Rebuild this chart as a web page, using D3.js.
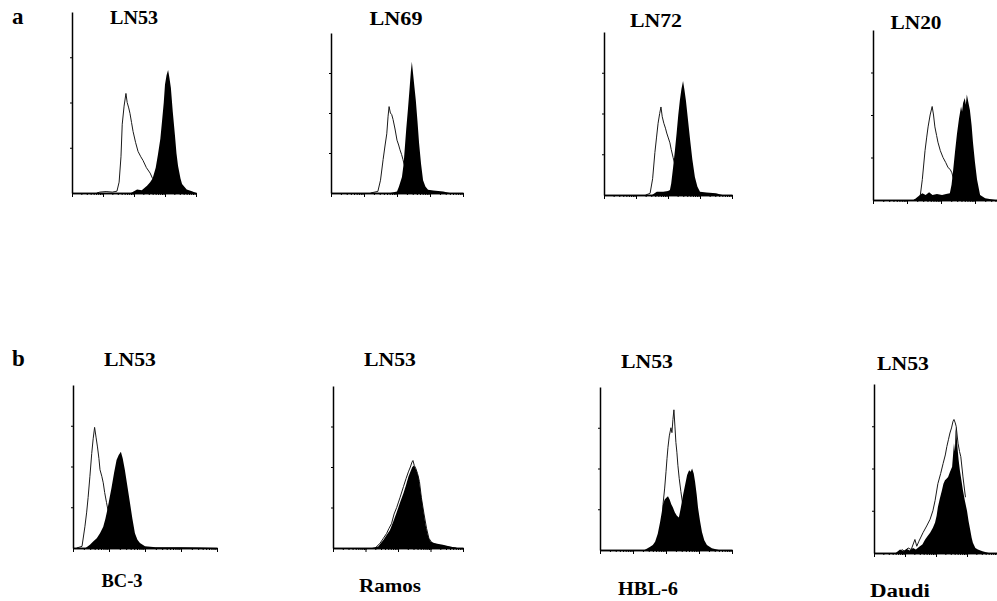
<!DOCTYPE html>
<html>
<head>
<meta charset="utf-8">
<script src="https://cdn.jsdelivr.net/npm/d3@7"></script>
<style>
  body { margin: 0; background: #fff; }
  text { font-family: "Liberation Serif", "DejaVu Serif", serif; font-weight: bold; fill: #000; }
</style>
</head>
<body>
<div class="holder"></div>
<script>
// antibody name above each panel, cell line below (row b only)
const antibodies = ['LN53', 'LN69', 'LN72', 'LN20', 'LN53', 'LN53', 'LN53', 'LN53'];
const cellLines = ['', '', '', '', 'BC-3', 'Ramos', 'HBL-6', 'Daudi'];
const rowLetters = ['a', 'b'];
const majorTicks = [1, 10, 100, 1000, 10000];
const yTicks = [25, 50, 75];

// histograms: [log decade, % of axis height]
const a1Open = [[0.8,0],[0.9,0.5],[1.1,0.8],[1.3,0.5],[1.45,1],[1.52,6],[1.58,20],[1.62,38],[1.68,48],[1.74,55],[1.78,50],[1.83,47],[1.87,44],[1.92,39],[1.97,34],[2.05,28],[2.13,23],[2.22,20],[2.29,18],[2.4,14],[2.52,11],[2.6,8],[2.7,5],[2.8,3],[2.9,2],[3.0,1],[3.2,0]];
const a1Filled = [[1.9,0],[2.1,2],[2.25,1.5],[2.42,4],[2.52,6],[2.6,8],[2.7,14],[2.77,21],[2.85,30],[2.9,39],[2.96,50],[3.0,60],[3.05,65],[3.1,68],[3.14,64],[3.19,58],[3.25,45],[3.32,32],[3.37,22],[3.42,15],[3.5,8],[3.55,5],[3.7,2],[3.87,1],[4.0,0]];
const a2Open = [[1.2,0],[1.42,1],[1.5,8],[1.58,21],[1.64,30],[1.69,37],[1.73,48],[1.76,54],[1.8,50],[1.84,49],[1.88,46],[1.94,40],[2.0,33],[2.05,30],[2.09,27],[2.14,24],[2.18,21],[2.25,15],[2.35,8],[2.5,3],[2.7,1],[2.9,0]];
const a2Filled = [[1.8,0],[2.0,1],[2.06,4],[2.15,10],[2.2,18],[2.24,29],[2.28,40],[2.33,52],[2.38,65],[2.42,76],[2.45,82],[2.49,74],[2.53,66],[2.57,58],[2.62,45],[2.67,31],[2.73,18],[2.79,8],[2.86,4],[2.94,2],[3.1,1.5],[3.4,1],[3.6,0]];
const a3Open = [[1.3,0],[1.44,1],[1.52,10],[1.59,26],[1.64,35],[1.69,44],[1.74,50],[1.78,54],[1.82,48],[1.87,44],[1.92,41],[1.96,38],[2.01,35],[2.06,32],[2.1,28],[2.16,23],[2.25,16],[2.35,9],[2.5,4],[2.7,1],[2.9,0]];
const a3Filled = [[1.5,0],[1.65,2],[1.85,2],[2.0,2.5],[2.06,3],[2.1,7],[2.16,17],[2.22,28],[2.27,38],[2.32,49],[2.37,58],[2.42,65],[2.47,70],[2.51,65],[2.56,58],[2.62,47],[2.69,34],[2.76,22],[2.84,11],[2.92,5],[3.0,2],[3.2,1.5],[3.5,1],[3.7,0]];
const a4Open = [[1.2,0],[1.38,1],[1.45,12],[1.53,29],[1.58,37],[1.62,43],[1.68,50],[1.74,55],[1.78,50],[1.82,43],[1.87,38],[1.91,34],[1.98,29],[2.06,25],[2.14,22],[2.21,19],[2.27,18],[2.32,16],[2.4,10],[2.5,5],[2.7,2],[2.9,0]];
const a4Filled = [[1.2,0],[1.38,3],[1.45,4],[1.55,3],[1.65,4.5],[1.75,3],[1.88,3.5],[2.03,3],[2.15,3.5],[2.26,4],[2.31,9],[2.35,16],[2.41,28],[2.47,39],[2.53,48],[2.59,55],[2.62,52],[2.65,57],[2.7,60],[2.73,56],[2.76,62],[2.8,58],[2.85,53],[2.9,44],[2.94,34],[3.0,22],[3.06,12],[3.15,3],[3.3,1],[3.6,0]];
const b1Open = [[0.1,0],[0.25,1],[0.33,13],[0.38,22],[0.42,31],[0.47,44],[0.52,58],[0.56,67],[0.6,74],[0.64,68],[0.68,62],[0.72,55],[0.75,48],[0.8,44],[0.84,40],[0.88,34],[0.93,28],[1.0,20],[1.1,12],[1.2,6],[1.3,3],[1.5,1],[1.7,0]];
const b1Filled = [[0.35,0],[0.47,2],[0.56,4],[0.66,6],[0.75,9],[0.84,13],[0.9,18],[0.95,23],[1.01,30],[1.07,37],[1.14,46],[1.21,54],[1.27,57],[1.33,59],[1.38,55],[1.44,48],[1.51,38],[1.58,28],[1.65,18],[1.72,9],[1.79,5],[1.86,3],[2.0,1],[2.3,0.5],[3.0,0.5],[3.5,0.3],[4.0,0]];
const b2Open = [[1.3,0],[1.45,3],[1.55,6],[1.65,9],[1.72,12],[1.8,15],[1.88,21],[1.96,25],[2.06,31],[2.17,38],[2.25,43],[2.32,47],[2.38,50],[2.43,53],[2.46,54],[2.5,51],[2.55,49],[2.6,46],[2.66,41],[2.72,31],[2.8,21],[2.88,12],[2.95,6],[3.05,3],[3.3,1.5],[3.6,0.5],[3.8,0]];
const b2Filled = [[1.2,0],[1.39,1],[1.47,3],[1.55,5],[1.65,8],[1.75,11],[1.85,16],[1.96,22],[2.06,28],[2.17,34],[2.25,39],[2.32,44],[2.38,47],[2.44,50],[2.49,51],[2.54,49],[2.58,47],[2.63,44],[2.7,34],[2.78,23],[2.85,14],[2.93,7],[3.0,4],[3.13,3],[3.25,2.5],[3.38,2],[3.6,1],[3.8,0]];
const b3Open = [[1.85,0],[1.91,28],[1.96,38],[2.0,48],[2.03,56],[2.06,63],[2.1,70],[2.15,75],[2.18,72],[2.21,80],[2.24,86],[2.27,76],[2.3,66],[2.33,60],[2.36,52],[2.4,44],[2.45,36],[2.52,26],[2.6,15]];
const b3Filled = [[1.35,0],[1.52,2],[1.6,3],[1.67,5],[1.75,10],[1.82,17],[1.87,23],[1.91,28],[1.96,31],[2.01,32],[2.06,33],[2.11,31],[2.16,28],[2.21,26],[2.27,23],[2.33,21],[2.39,20],[2.45,26],[2.52,34],[2.58,40],[2.64,46],[2.7,49],[2.75,48],[2.79,50],[2.84,47],[2.88,42],[2.93,34],[2.97,26],[3.03,18],[3.09,11],[3.16,6],[3.24,3],[3.39,1],[3.6,0]];
const b4Open = [[0.8,0],[0.9,2],[1.0,1],[1.1,3],[1.2,2],[1.32,8],[1.38,4],[1.45,7],[1.58,12],[1.7,16],[1.81,20],[1.9,25],[1.97,31],[2.06,41],[2.15,47],[2.23,53],[2.3,58],[2.35,63],[2.4,67],[2.45,71],[2.5,74],[2.55,78],[2.58,79],[2.62,77],[2.65,75],[2.71,65],[2.76,60],[2.8,57],[2.87,45],[2.95,33]];
const b4Filled = [[0.7,0],[0.84,2],[0.95,1],[1.05,2.5],[1.15,1.5],[1.26,3],[1.35,2],[1.48,4],[1.56,5],[1.65,8],[1.73,10],[1.81,12],[1.9,15],[1.97,18],[2.02,22],[2.06,27],[2.12,32],[2.19,37],[2.24,41],[2.29,43],[2.34,44],[2.39,45],[2.45,48],[2.52,51],[2.55,58],[2.58,65],[2.61,60],[2.63,72],[2.65,75],[2.67,68],[2.7,61],[2.73,55],[2.77,49],[2.82,43],[2.87,37],[2.93,31],[3.0,25],[3.05,19],[3.1,14],[3.15,9],[3.19,6],[3.27,3],[3.35,2],[3.5,1],[3.7,0]];

const openSeries = [a1Open, a2Open, a3Open, a4Open, b1Open, b2Open, b3Open, b4Open];
const filledSeries = [a1Filled, a2Filled, a3Filled, a4Filled, b1Filled, b2Filled, b3Filled, b4Filled];

// layout of each panel (pixels)
const frames = [
  { left: 72, right: 196, top: 12, bottom: 193 },
  { left: 331, right: 463, top: 33, bottom: 193 },
  { left: 604, right: 732, top: 32, bottom: 195 },
  { left: 873, right: 1009, top: 30, bottom: 200 },
  { left: 73, right: 217, top: 385, bottom: 548 },
  { left: 333, right: 463, top: 386, bottom: 548 },
  { left: 600, right: 732, top: 387, bottom: 550 },
  { left: 874, right: 998, top: 384, bottom: 553 }
];
const titlePos = [
  { cx: 134, y: 24, w: 48 }, { cx: 396, y: 25, w: 53 }, { cx: 656, y: 27, w: 52 }, { cx: 916, y: 29, w: 51 },
  { cx: 130, y: 366, w: 52 }, { cx: 390, y: 366, w: 52 }, { cx: 647, y: 368, w: 52 }, { cx: 903, y: 370, w: 52 }
];
const cellPos = [null, null, null, null,
  { cx: 122, y: 587, w: 41 }, { cx: 390, y: 592, w: 62 }, { cx: 648, y: 595, w: 60 }, { cx: 900, y: 597, w: 60 }];
const letterPos = [{ x: 12, y: 24 }, { x: 12, y: 366 }];

const svg = d3
  .select('.holder')
  .append('svg')
  .attr('width', 997)
  .attr('height', 601);

rowLetters.forEach((l, i) => {
  svg.append('text')
    .attr('x', letterPos[i].x)
    .attr('y', letterPos[i].y)
    .style('font-size', '23px')
    .text(l);
});

frames.forEach((f, i) => {
  const x = d3.scaleLinear().domain([0, 4]).range([f.left, f.right]);
  const xLog = d3.scaleLog().domain([1, 10000]).range([f.left, f.right]);
  const y = d3.scaleLinear().domain([0, 100]).range([f.bottom, f.top]);
  const g = svg.append('g');

  // open (control) histogram under, stained filled on top
  g.append('path')
    .datum(openSeries[i])
    .attr('d', d3.line().x(d => x(d[0])).y(d => y(d[1])))
    .attr('fill', 'none')
    .attr('stroke', '#1a1a1a')
    .attr('stroke-width', 1);

  g.append('path')
    .datum(filledSeries[i])
    .attr('d', d3.area().x(d => x(d[0])).y0(y(0)).y1(d => y(d[1])))
    .attr('fill', '#000');

  const minor = g.append('g')
    .attr('transform', `translate(0, ${f.bottom})`)
    .call(d3.axisBottom(xLog).tickValues(xLog.ticks()).tickSize(2).tickSizeOuter(0).tickFormat(''));
  const major = g.append('g')
    .attr('transform', `translate(0, ${f.bottom})`)
    .call(d3.axisBottom(xLog).tickValues(majorTicks).tickSize(4).tickSizeOuter(0).tickFormat(''));
  const yAxis = g.append('g')
    .attr('transform', `translate(${f.left}, 0)`)
    .call(d3.axisLeft(y).tickValues(yTicks).tickSize(2).tickSizeOuter(0).tickFormat(''));

  [minor, major, yAxis].forEach(a => {
    a.select('.domain').attr('stroke', '#000').attr('stroke-width', 1.5);
    a.selectAll('.tick line').attr('stroke', '#000');
  });

  const t = titlePos[i];
  svg.append('text')
    .attr('x', t.cx)
    .attr('y', t.y)
    .attr('text-anchor', 'middle')
    .attr('textLength', t.w)
    .attr('lengthAdjust', 'spacingAndGlyphs')
    .style('font-size', '18px')
    .text(antibodies[i]);

  if (cellLines[i]) {
    const c = cellPos[i];
    svg.append('text')
      .attr('x', c.cx)
      .attr('y', c.y)
      .attr('text-anchor', 'middle')
      .attr('textLength', c.w)
      .attr('lengthAdjust', 'spacingAndGlyphs')
      .style('font-size', '18px')
      .text(cellLines[i]);
  }
});
</script>
</body>
</html>
